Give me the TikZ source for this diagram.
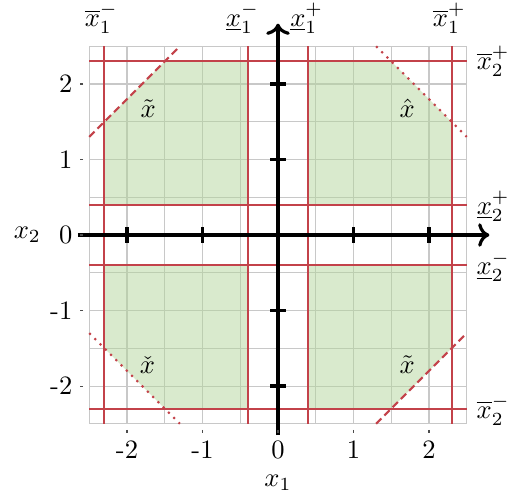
\documentclass[tikz,border=0pt]{standalone}
\usepackage{amsmath,amssymb}
\usepackage{xcolor}
\definecolor{boundred}{HTML}{C3424A}
\definecolor{feasgreen}{HTML}{B3D59B}
\definecolor{gridgray}{HTML}{C8C8C8}
\usetikzlibrary{arrows.meta}

\begin{document}
\begin{tikzpicture}[
		bound/.style={boundred, line width=0.8pt},
		region/.style={fill=feasgreen, fill opacity=0.5},
		axisline/.style={line width=1.2pt},
		boundlabel/.style={inner sep=0pt}
	]
	\useasboundingbox (-3.682,-3.470) rectangle (3.086,3.113);

	% Grid
	\draw[gridgray, line width=0.4pt] (-2.5,-2.5) grid[step=0.5] (2.5,2.5);

	% Feasible parts of the box, one per quadrant
	\fill[region] (-2.3,0.4) -- (-0.4,0.4) -- (-0.4,2.3) -- (-1.5,2.3) -- (-2.3,1.5) -- cycle;
	\fill[region] (0.4,0.4) -- (2.3,0.4) -- (2.3,1.5) -- (1.5,2.3) -- (0.4,2.3) -- cycle;
	\fill[region] (-0.4,-0.4) -- (-2.3,-0.4) -- (-2.3,-1.5) -- (-1.5,-2.3) -- (-0.4,-2.3) -- cycle;
	\fill[region] (0.4,-0.4) -- (2.3,-0.4) -- (2.3,-1.5) -- (1.5,-2.3) -- (0.4,-2.3) -- cycle;

	% Bounds
	\foreach \b in {-2.3,-0.4,0.4,2.3} {
		\draw[bound] (\b,-2.5) -- (\b,2.5);
		\draw[bound] (-2.5,\b) -- (2.5,\b);
	}

	% Cutting lines
	\draw[bound, dash pattern=on 2.8pt off 1.6pt] (-2.5,1.3) -- (-1.3,2.5);
	\draw[bound, dash pattern=on 2.8pt off 1.6pt] (1.3,-2.5) -- (2.5,-1.3);
	\draw[bound, dotted] (1.3,2.5) -- (2.5,1.3);
	\draw[bound, dotted] (-2.5,-1.3) -- (-1.3,-2.5);

	% Axes
	\draw[->, axisline] (-2.65,0) -- (2.8,0);
	\draw[->, axisline] (0,-2.65) -- (0,2.8);
	\foreach \t in {-2,-1,1,2} {
		\draw[axisline] (\t,-0.1) -- (\t,0.1);
		\draw[axisline] (-0.1,\t) -- (0.1,\t);
	}

	% Tick labels
	\foreach \t [count=\i] in {-2,-1,0,1,2} {
		\draw[black!70, line width=0.4pt] (\t,-2.58) -- (\t,-2.62);
		\draw[black!70, line width=0.4pt] (-2.58,\t) -- (-2.62,\t);
		\node[anchor=north] (xtick\i) at (\t,-2.6) {\t};
		\node[anchor=east] (ytick\i) at (-2.6,\t) {\t};
	}
	\node (xlabel) at (0,-3.28) {$x_1$};
	\node (ylabel) at (-3.32,0) {$x_2$};

	% Bound labels
	\node[boundlabel] (lo1m) at (-2.34,2.87) {$\overline{x}_1^-$};
	\node[boundlabel] (up1m) at (-0.47,2.87) {$\underline{x}_1^-$};
	\node[boundlabel] (up1p) at (0.38,2.87) {$\underline{x}_1^+$};
	\node[boundlabel] (lo1p) at (2.27,2.87) {$\overline{x}_1^+$};
	\node[boundlabel] (lo2p) at (2.85,2.3) {$\overline{x}_2^+$};
	\node[boundlabel] (up2p) at (2.85,0.38) {$\underline{x}_2^+$};
	\node[boundlabel] (up2m) at (2.85,-0.42) {$\underline{x}_2^-$};
	\node[boundlabel] (lo2m) at (2.85,-2.32) {$\overline{x}_2^-$};

	% Region labels
	\node (ptilde) at (-1.72,1.68) {$\tilde{x}$};
	\node (phat) at (1.71,1.68) {$\hat{x}$};
	\node (pcheck) at (-1.73,-1.72) {$\check{x}$};
	\node (ptilde2) at (1.71,-1.72) {$\tilde{x}$};
\end{tikzpicture}
\end{document}
